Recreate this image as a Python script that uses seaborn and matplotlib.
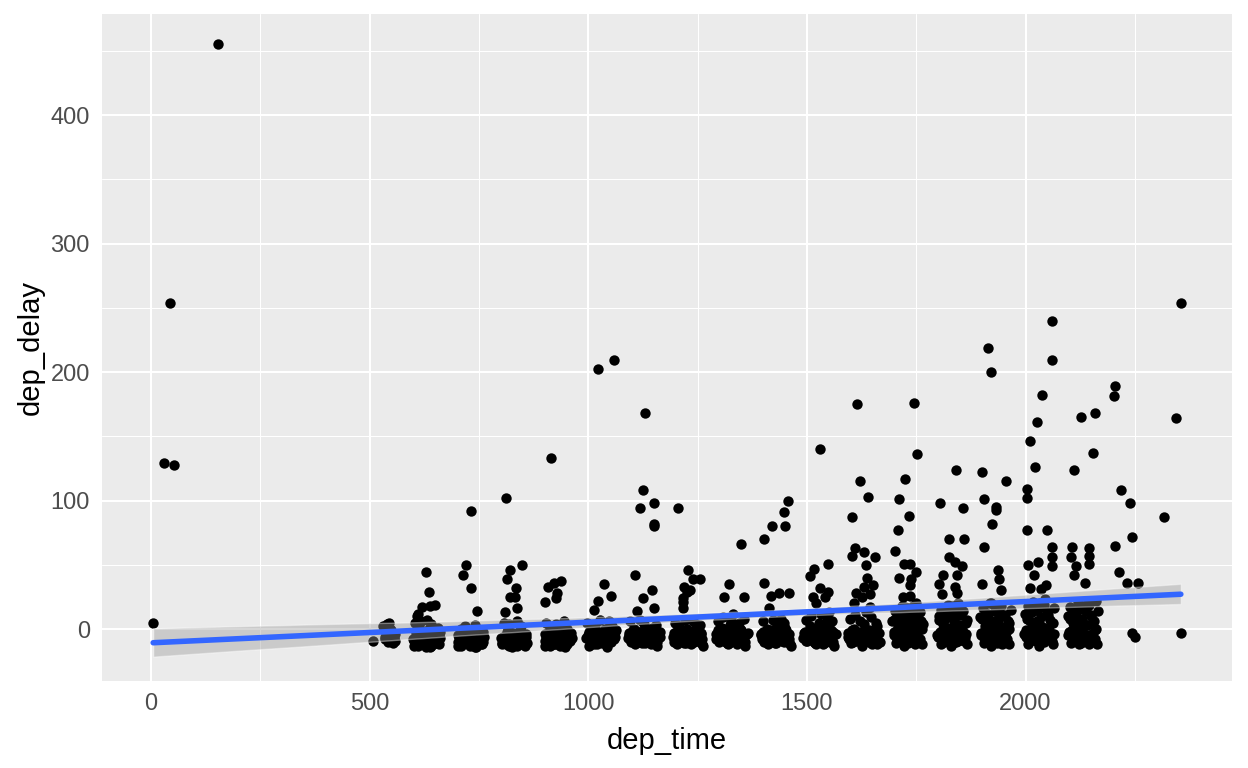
import matplotlib
matplotlib.use('Agg')
import matplotlib.pyplot as plt
import numpy as np
import pandas as pd
import seaborn as sns
from matplotlib.ticker import MultipleLocator

# dep_time / dep_delay, grouped by departure hour
night_time = [5, 30, 53, 43, 153]
night_delay = [5, 129, 128, 254, 455]

h05_time = [507, 531, 536, 540, 544, 548, 552, 555, 557, 559]
h05_delay = [-9, 2, -6, 4, 5, -1, -3, -6, -9, -4]

h06_time = [600, 605, 612, 620, 628, 635, 642, 650, 657, 661, 603, 615, 625, 640, 652, 660, 608, 632, 646, 618,
            608, 611, 619, 638, 650, 636, 628]
h06_delay = [-8, -3, 2, -10, -6, 0, -9, -4, 1, -7, 5, -11, -2, 4, -11, -2, -6, 7, -7, 6,
             10, 12, 17, 18, 19, 29, 44]

h07_time = [702, 708, 715, 722, 730, 738, 745, 752, 758, 762, 705, 718, 727, 740, 750, 760, 712, 735,
            745, 731, 713, 720, 731]
h07_delay = [-5, 0, -9, -3, -7, -1, -10, -4, -12, -6, -11, 2, -12, 3, -8, -2, -7, -11,
             14, 32, 42, 50, 92]

h08_time = [805, 810, 816, 822, 828, 834, 840, 846, 852, 857, 808, 819, 831, 843, 855, 813, 837, 849,
            809, 836, 821, 833, 835, 814, 820, 848, 811]
h08_delay = [-6, -11, 0, -8, -3, -12, -6, 2, -9, -4, 5, 4, -10, -1, -12, -2, 6, -7,
             13, 16, 25, 25, 32, 39, 46, 50, 102]

h09_time = [900, 906, 912, 918, 924, 930, 936, 942, 948, 954, 960, 903, 915, 927, 939, 951, 963, 909, 945,
            901, 926, 928, 907, 922, 938, 914]
h09_delay = [-4, -9, 1, -6, -11, -2, -8, 3, -5, -10, -3, 5, -1, 4, -12, 0, -7, -12, 6,
             21, 24, 28, 33, 36, 37, 133]

h10_time = [995, 1001, 1008, 1015, 1022, 1030, 1038, 1045, 1052, 1058, 1064, 998, 1012, 1026, 1041, 1055, 1005,
            1033, 1048, 1012, 1022, 1051, 1036, 1022, 1058]
h10_delay = [-7, -2, -10, 3, -5, -9, 0, -11, -4, -8, -1, 5, -12, 7, -6, 2, -8,
             -3, 6, 15, 22, 26, 35, 202, 209]

h11_time = [1092, 1098, 1104, 1110, 1116, 1122, 1128, 1134, 1140, 1146, 1152, 1158, 1164, 1095, 1107, 1119, 1131,
            1143, 1155, 1101, 1137, 1111, 1150, 1125, 1146, 1106, 1150, 1150, 1118, 1150, 1125, 1129]
h11_delay = [-5, -10, 0, -7, -2, -11, 4, -6, -9, 1, -4, -10, -2, 6, -12, 7, -1,
             -12, 3, -8, -4, 14, 16, 24, 30, 42, 80, 82, 94, 98, 108, 168]

h12_time = [1195, 1201, 1207, 1213, 1219, 1225, 1231, 1237, 1243, 1249, 1255, 1261, 1198, 1210, 1222, 1234, 1246,
            1258, 1204, 1240, 1217, 1217, 1217, 1225, 1233, 1219, 1239, 1256, 1228, 1205]
h12_delay = [-3, -9, 2, -6, -11, 0, -5, -10, -1, -7, 3, -12, 5, -2, 7, -12, 4,
             -4, -12, 6, 16, 21, 24, 29, 30, 33, 39, 39, 46, 94]

h13_time = [1293, 1299, 1305, 1311, 1317, 1323, 1329, 1335, 1341, 1347, 1353, 1359, 1365, 1296, 1308, 1320, 1332,
            1344, 1356, 1302, 1326, 1350, 1311, 1356, 1322, 1349]
h13_delay = [-4, -9, 1, -6, -11, 3, -2, -8, -12, 0, -5, -10, -3, 6, 9, -12, 12,
             5, 8, -7, 6, -1, 25, 25, 35, 66]

h14_time = [1396, 1402, 1408, 1414, 1420, 1426, 1432, 1438, 1444, 1450, 1456, 1462, 1399, 1411, 1423, 1435, 1447,
            1459, 1405, 1441, 1414, 1417, 1435, 1459, 1402, 1401, 1420, 1450, 1447, 1456]
h14_delay = [-5, -10, 0, -7, -2, -11, 3, -6, -9, 1, -4, -12, 6, -12, 7, -1, 5,
             -8, -3, 8, 16, 26, 28, 28, 36, 70, 80, 80, 91, 100]

h15_time = [1494, 1500, 1506, 1512, 1518, 1524, 1530, 1536, 1542, 1548, 1554, 1560, 1566, 1497, 1509, 1521, 1533,
            1545, 1557, 1503, 1527, 1551, 1521, 1515, 1542, 1549, 1530, 1507, 1516, 1548, 1529]
h15_delay = [-3, -9, 2, -6, -11, 0, -5, -12, 4, -8, -1, -10, -4, 7, 10, -12, 12,
             9, 6, -7, 5, 13, 20, 25, 25, 29, 32, 41, 47, 51, 140]

h16_time = [1595, 1601, 1607, 1613, 1619, 1625, 1631, 1637, 1643, 1649, 1655, 1661, 1667, 1598, 1610, 1622, 1634,
            1646, 1658, 1604, 1628, 1652, 1608, 1645, 1625, 1613, 1645, 1631, 1652, 1637, 1635, 1655, 1631, 1603,
            1609, 1603, 1639, 1621, 1614]
h16_delay = [-6, -11, 0, -8, -3, -13, 4, -9, -1, -12, -5, 2, -10, 8, 11, 6, 13,
             9, 5, -4, -7, -1, 20, 17, 25, 28, 27, 33, 34, 40, 50, 56, 60, 57,
             63, 87, 103, 115, 175]

h17_time = [1698, 1704, 1710, 1716, 1722, 1728, 1734, 1740, 1746, 1752, 1758, 1762, 1701, 1713, 1725, 1737, 1749,
            1761, 1707, 1731, 1743, 1719, 1719, 1736, 1736, 1739, 1710, 1750, 1721, 1736, 1701, 1708, 1733, 1710,
            1724, 1751, 1744]
h17_delay = [-5, -11, 1, -7, -13, -2, -9, 3, -12, -4, -8, 0, 8, 13, 17, 10, 14,
             6, -1, 9, 18, 6, 25, 26, 34, 39, 40, 44, 51, 51, 61, 77, 88, 101,
             117, 136, 176]

h18_time = [1800, 1806, 1812, 1818, 1824, 1830, 1836, 1842, 1848, 1854, 1860, 1864, 1803, 1815, 1827, 1839, 1851,
            1863, 1809, 1833, 1845, 1821, 1809, 1843, 1839, 1803, 1810, 1843, 1854, 1839, 1824, 1824, 1859, 1857,
            1804, 1840]
h18_delay = [-6, -12, 0, -8, -3, -13, 2, -10, -5, -1, -9, -4, 7, 12, 16, 9, 14,
             5, -2, 18, 20, 10, 27, 28, 33, 35, 42, 42, 49, 52, 56, 70, 70, 94,
             98, 124]

h19_time = [1898, 1904, 1910, 1916, 1922, 1928, 1934, 1940, 1946, 1952, 1958, 1963, 1901, 1913, 1925, 1937, 1949,
            1961, 1907, 1931, 1955, 1919, 1943, 1900, 1940, 1937, 1905, 1923, 1932, 1932, 1905, 1955, 1900, 1921,
            1914]
h19_delay = [-5, -11, 1, -7, -13, -2, -9, 3, -12, -4, -8, 0, 8, 12, 6, 15, 10,
             5, -1, 18, -2, 20, 30, 35, 39, 46, 64, 82, 93, 95, 101, 115, 122, 200,
             219]

h20_time = [2000, 2006, 2012, 2018, 2024, 2030, 2036, 2042, 2048, 2054, 2060, 2064, 2003, 2015, 2027, 2039, 2051,
            2063, 2009, 2033, 2045, 2021, 2035, 2011, 2047, 2019, 2060, 2005, 2029, 2060, 2060, 2049, 2003, 2003,
            2003, 2021, 2011, 2026, 2037, 2060, 2060]
h20_delay = [-6, -12, 0, -8, -3, -13, 2, -10, -5, -1, -9, -4, 8, 13, 6, 17, 11,
             5, -2, 20, 23, 15, 31, 32, 34, 42, 49, 50, 52, 56, 64, 77, 77, 102,
             109, 126, 146, 161, 182, 209, 240]

h21_time = [2098, 2104, 2110, 2116, 2122, 2128, 2134, 2140, 2146, 2152, 2158, 2162, 2101, 2113, 2125, 2137, 2149,
            2161, 2107, 2131, 2143, 2119, 2136, 2110, 2115, 2145, 2103, 2145, 2105, 2145, 2110, 2154, 2126, 2159]
h21_delay = [-5, -11, 1, -7, -12, -2, -9, 3, -12, -4, -8, 0, 8, 12, 6, 14, 10,
             22, -1, 18, 20, 15, 36, 42, 49, 51, 56, 57, 64, 63, 124, 137, 165, 168]

h22_time = [2243, 2251, 2232, 2257, 2213, 2204, 2243, 2239, 2218, 2202, 2204]
h22_delay = [-3, -6, 36, 36, 44, 65, 72, 98, 108, 181, 189]

h23_time = [2355, 2316, 2344, 2355]
h23_delay = [-3, 87, 164, 254]

# dense core of departures hidden inside the black blobs
c05_time = [534, 538, 542, 546, 550, 554]
c05_delay = [-8, -2, -10, 0, -7, -11]
c06_time = [601, 604, 607, 610, 613, 616, 619, 622, 626, 629, 631, 634, 637, 641, 644, 647, 649, 653, 655, 658,
            602, 624, 638, 656]
c06_delay = [-9, -12, -6, -13, -10, -7, -11, -8, -5, -14, -9, -12, -6, -13, -10, -4, -11, -8, -7, -12,
             -13, -9, -14, -10]
c07_time = [701, 704, 707, 710, 714, 717, 720, 724, 726, 729, 733, 736, 739, 742, 744, 748, 751, 754, 756, 759,
            703, 723, 743, 757]
c07_delay = [-10, -6, -12, -13, -8, -11, -9, -5, -10, -13, -7, -12, -8, -14, -6, -9, -11, -12, -7, -10,
             -13, -8, -14, -5]
c08_time = [801, 803, 807, 811, 814, 818, 820, 824, 826, 830, 833, 836, 838, 842, 845, 848, 851, 853, 856, 859,
            802, 825, 844, 858]
c08_delay = [-7, -11, -9, -12, -5, -13, -8, -10, -12, -6, -11, -8, -13, -9, -12, -7, -5, -10, -13, -11,
             -12, -14, -11, -6]
c09_time = [901, 904, 908, 910, 913, 917, 920, 923, 925, 929, 932, 935, 937, 941, 944, 947, 950, 952, 956, 958,
            902, 921, 946, 961]
c09_delay = [-9, -6, -11, -8, -13, -7, -10, -9, -12, -5, -10, -13, -8, -11, -6, -10, -9, -12, -7, -9,
             -13, -12, -14, -6]
c10_time = [1000, 1003, 1006, 1010, 1013, 1017, 1019, 1023, 1027, 1029, 1032, 1035, 1039, 1042, 1044, 1047, 1050,
            1053, 1056, 1060, 1002, 1020, 1043, 1062]
c10_delay = [-5, -9, -3, -7, -1, -10, -4, -8, -2, -6, -11, -5, -3, -9, -7, -1, -6, -10, -4, -2, -13, -12, -14, -6]
c11_time = [1090, 1094, 1097, 1100, 1103, 1106, 1109, 1113, 1115, 1118, 1121, 1124, 1127, 1130, 1133, 1136, 1139,
            1142, 1145, 1149, 1153, 1157, 1160, 1163]
c11_delay = [-7, -3, -9, -5, -1, -8, -4, -10, -6, -2, -7, -9, -3, -11, -5, -8, -1, -6, -10, -4, -7, -13, -2, -6]
c12_time = [1194, 1197, 1200, 1203, 1206, 1209, 1212, 1215, 1218, 1221, 1224, 1227, 1230, 1233, 1236, 1239, 1242,
            1245, 1248, 1251, 1254, 1257, 1260, 1263]
c12_delay = [-6, -10, -2, -8, -4, -7, -1, -9, -5, -3, -11, -6, -8, -2, -7, -4, -10, -5, -1, -9, -6, -3, -8, -13]
c13_time = [1291, 1294, 1297, 1300, 1304, 1307, 1310, 1313, 1316, 1319, 1322, 1325, 1328, 1331, 1334, 1337, 1340,
            1343, 1346, 1349, 1352, 1355, 1358, 1362]
c13_delay = [-8, -4, -1, -10, -6, -3, -9, -5, -7, -2, -11, -4, -6, -8, -3, -10, -1, -5, -7, -9, -2, -6, -13, -4]
c14_time = [1394, 1397, 1400, 1403, 1406, 1409, 1412, 1415, 1418, 1421, 1424, 1427, 1430, 1433, 1436, 1439, 1442,
            1445, 1448, 1451, 1454, 1457, 1460, 1464]
c14_delay = [-4, -8, -2, -6, -10, -3, -7, -5, -1, -9, -6, -4, -11, -2, -8, -5, -7, -3, -10, -1, -6, -9, -4, -13]
c15_time = [1492, 1495, 1498, 1501, 1505, 1508, 1511, 1514, 1517, 1520, 1523, 1526, 1529, 1532, 1535, 1538, 1541,
            1544, 1547, 1550, 1553, 1556, 1559, 1563]
c15_delay = [-7, -2, -9, -5, -3, -8, -1, -6, -10, -4, -7, -2, -9, -5, -3, -11, -6, -1, -8, -4, -10, -6, -2, -13]
c16_time = [1593, 1596, 1599, 1602, 1605, 1609, 1612, 1615, 1618, 1621, 1624, 1627, 1630, 1633, 1636, 1639, 1642,
            1645, 1648, 1651, 1654, 1657, 1660, 1664]
c16_delay = [-3, -8, -5, -1, -10, -6, -4, -9, -2, -7, -5, -11, -3, -8, -1, -6, -10, -4, -7, -2, -9, -5, -12, -3]
c17_time = [1695, 1699, 1702, 1705, 1708, 1711, 1714, 1717, 1720, 1723, 1726, 1729, 1732, 1735, 1738, 1741, 1744,
            1747, 1750, 1753, 1756, 1759, 1763, 1765]
c17_delay = [6, -2, 14, -9, 3, 11, -6, 18, 0, -4, 9, 16, -11, 5, -7, 12, 2, -3, 20, 7, -8, 13, -12, 4]
c18_time = [1797, 1801, 1804, 1807, 1810, 1813, 1816, 1819, 1822, 1825, 1828, 1831, 1834, 1837, 1840, 1843, 1846,
            1849, 1852, 1855, 1858, 1861, 1865, 1867]
c18_delay = [-5, 10, -2, 15, 4, -10, 8, -6, 19, 1, -8, 12, -11, 6, -3, 17, -9, 3, 11, -1, 14, -7, -12, 7]
c19_time = [1896, 1899, 1902, 1905, 1908, 1911, 1914, 1917, 1920, 1923, 1926, 1929, 1932, 1935, 1938, 1941, 1944,
            1947, 1950, 1953, 1956, 1959, 1962, 1966]
c19_delay = [9, -3, 16, -7, 2, 12, -10, 5, 20, -1, -6, 14, 3, -11, 8, -4, 18, 1, -9, 11, -2, 6, -12, 15]
c20_time = [1996, 1999, 2002, 2005, 2008, 2011, 2014, 2017, 2020, 2023, 2026, 2029, 2032, 2035, 2038, 2041, 2044,
            2047, 2050, 2053, 2056, 2059, 2062, 2066]
c20_delay = [-4, 12, -1, 18, -10, 6, -7, 21, 3, -9, 15, -2, -11, 9, -5, 19, 1, -3, 13, -8, 7, -6, -12, 16]
c21_time = [2096, 2099, 2102, 2105, 2108, 2111, 2114, 2117, 2120, 2123, 2126, 2129, 2132, 2135, 2138, 2141, 2144,
            2147, 2150, 2153, 2156, 2159, 2163, 2165]
c21_delay = [10, -2, 17, -4, 5, -9, 13, -6, 21, 0, -11, 8, -3, 15, -7, 3, 19, -5, 11, -8, 6, -1, -12, 14]

all_time = [night_time, h05_time, h06_time, h07_time, h08_time, h09_time, h10_time, h11_time, h12_time,
            h13_time, h14_time, h15_time, h16_time, h17_time, h18_time, h19_time, h20_time, h21_time,
            h22_time, h23_time,
            c05_time, c06_time, c07_time, c08_time, c09_time, c10_time, c11_time, c12_time, c13_time,
            c14_time, c15_time, c16_time, c17_time, c18_time, c19_time, c20_time, c21_time]
all_delay = [night_delay, h05_delay, h06_delay, h07_delay, h08_delay, h09_delay, h10_delay, h11_delay,
             h12_delay, h13_delay, h14_delay, h15_delay, h16_delay, h17_delay, h18_delay, h19_delay,
             h20_delay, h21_delay, h22_delay, h23_delay,
             c05_delay, c06_delay, c07_delay, c08_delay, c09_delay, c10_delay, c11_delay, c12_delay,
             c13_delay, c14_delay, c15_delay, c16_delay, c17_delay, c18_delay, c19_delay, c20_delay,
             c21_delay]

flights = pd.DataFrame({
    'dep_time': np.concatenate(all_time),
    'dep_delay': np.concatenate(all_delay),
})

# %%
sns.set_theme(style='darkgrid')
plt.rcParams['font.family'] = ['Liberation Sans', 'DejaVu Sans']
plt.rcParams.update({
    'axes.facecolor': '#EBEBEB',
    'grid.color': 'white',
    'axes.edgecolor': 'none',
})

fig = plt.figure(figsize=(12.48, 7.68), dpi=100)
ax = fig.add_axes([102 / 1248, 87.3 / 768, 1130 / 1248, 666.7 / 768])

sns.regplot(
    data=flights,
    x='dep_time',
    y='dep_delay',
    ax=ax,
    color='black',
    seed=1,
    scatter_kws={'s': 56, 'linewidths': 0, 'alpha': 1},
    line_kws={'color': '#3366FF', 'linewidth': 4},
)
# grey ribbon like geom_smooth
band = ax.collections[-1]
band.set_facecolor('#999999')
band.set_alpha(0.4)

ax.set_xlim(-112, 2472)
ax.set_ylim(-40.2, 478.6)
ax.xaxis.set_major_locator(MultipleLocator(500))
ax.xaxis.set_minor_locator(MultipleLocator(250))
ax.yaxis.set_major_locator(MultipleLocator(100))
ax.yaxis.set_minor_locator(MultipleLocator(50))
ax.grid(which='major', color='white', linewidth=1.5)
ax.grid(which='minor', color='white', linewidth=0.75)
ax.set_axisbelow(True)
for s in ax.spines.values():
    s.set_visible(False)

ax.tick_params(which='major', length=5.3, width=1.1, color='#333333',
               labelsize=17, labelcolor='#4D4D4D', pad=3.5)
ax.tick_params(which='minor', length=0)
ax.set_xlabel('dep_time', fontsize=21, color='black', labelpad=9)
ax.set_ylabel('dep_delay', fontsize=21, color='black', labelpad=4)

fig.savefig('out.png', dpi=100, facecolor='white')
